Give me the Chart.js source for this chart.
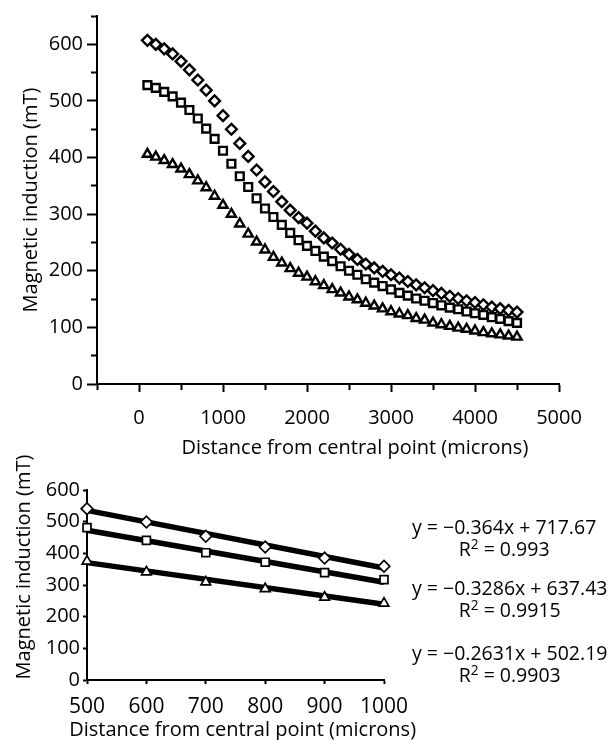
<!DOCTYPE html>
<html>
<head>
<meta charset="utf-8">
<script src="https://cdn.jsdelivr.net/npm/chart.js@4"></script>
<style>
  body { margin: 0; background: #fff; }
  #wrap { position: relative; width: 613px; height: 740px; font-family: "Open Sans", sans-serif; }
  canvas { position: absolute; left: 0; }
  .eq { position: absolute; left: 412px; text-align: center; font-size: 19.5px; line-height: 22px; color: #000; white-space: nowrap; }
  .eq sup { font-size: 0.7em; vertical-align: 0.5em; line-height: 0; }
</style>
</head>
<body>
<div id="wrap">
  <canvas id="topChart" width="613" height="470" style="top:0"></canvas>
  <canvas id="bottomChart" width="420" height="300" style="top:440px"></canvas>
</div>
<script>
// top panel: field along the distance (microns)
const distances = [100, 200, 300, 400, 500, 600, 700, 800, 900, 1000,
  1100, 1200, 1300, 1400, 1500, 1600, 1700, 1800, 1900, 2000,
  2100, 2200, 2300, 2400, 2500, 2600, 2700, 2800, 2900, 3000,
  3100, 3200, 3300, 3400, 3500, 3600, 3700, 3800, 3900, 4000,
  4100, 4200, 4300, 4400, 4500];
const diamondVals = [607, 600, 592, 583, 570, 555, 537, 519, 500, 474,
  450, 425, 402, 378, 357, 340, 322, 307, 294, 284,
  270, 258, 249, 238, 229, 220, 212, 205, 199, 193,
  187, 181, 175, 170, 165, 160, 155, 151, 147, 144,
  140, 136, 133, 130, 127];
const squareVals = [528, 523, 516, 508, 497, 484, 469, 451, 433, 412,
  389, 367, 348, 328, 310, 295, 281, 267, 254, 244,
  235, 225, 217, 208, 200, 193, 185, 179, 173, 167,
  161, 156, 151, 147, 143, 139, 135, 132, 128, 125,
  122, 118, 115, 111, 108];
const triangleVals = [406, 401, 395, 388, 380, 370, 359, 347, 332, 316,
  300, 283, 265, 251, 237, 224, 214, 204, 196, 189,
  181, 174, 167, 161, 154, 149, 143, 138, 133, 128,
  124, 121, 116, 113, 108, 105, 102, 99, 97, 94,
  91, 89, 87, 85, 83];

// bottom panel: 500-1000 microns with linear fits
const fitDistances = [500, 600, 700, 800, 900, 1000];
const fitDiamond = [541, 499, 454, 420, 385, 359];
const fitSquare = [481, 441, 402, 372, 339, 317];
const fitTriangle = [375, 341, 309, 288, 261, 242];
const slopes = [-0.364, -0.3286, -0.2631];
const intercepts = [717.67, 637.43, 502.19];
const rSquared = ['0.993', '0.9915', '0.9903'];

const xTitle = 'Distance from central point (microns)';
const yTitle = 'Magnetic induction (mT)';
const FONT = '"Open Sans", sans-serif';

function pts(xs, ys) {
  return xs.map((x, i) => ({ x: x, y: ys[i] }));
}

// axis titles drawn by hand so they can sit where the original puts them
const axisTitles = {
  id: 'axisTitles',
  afterDraw(chart, args, o) {
    const ctx = chart.ctx;
    const a = chart.chartArea;
    ctx.save();
    ctx.fillStyle = '#000';
    ctx.font = '20px ' + FONT;
    ctx.textAlign = 'center';
    ctx.textBaseline = 'middle';
    ctx.fillText(xTitle, chart.scales.x.getPixelForValue(o.xCenter), o.xY);
    ctx.translate(o.yX, (a.top + a.bottom) / 2 + o.yShift);
    ctx.rotate(-Math.PI / 2);
    ctx.fillText(yTitle, 0, 0);
    ctx.restore();
  }
};

function markerSet(data, style, r, bw) {
  return {
    data: data,
    showLine: false,
    pointStyle: style,
    pointRadius: r,
    pointBorderWidth: bw,
    pointBorderColor: '#000',
    pointBackgroundColor: '#fff',
    order: 1
  };
}

new Chart(document.getElementById('topChart'), {
  type: 'scatter',
  data: {
    datasets: [
      markerSet(pts(distances, diamondVals), 'rectRot', 5.4, 2.4),
      markerSet(pts(distances, squareVals), 'rect', 5.5, 2.4),
      markerSet(pts(distances, triangleVals), 'triangle', 5.3, 2.4)
    ]
  },
  options: {
    responsive: false,
    animation: false,
    layout: { padding: { left: 0, top: 14, right: 54, bottom: 0 } },
    plugins: {
      legend: { display: false },
      tooltip: { enabled: false },
      axisTitles: { xCenter: 2570, xY: 448, yX: 31, yShift: 0 }
    },
    scales: {
      x: {
        type: 'linear', min: -500, max: 5000,
        afterFit: s => { s.height = 86; },
        border: { color: '#000', width: 2 },
        grid: {
          drawOnChartArea: false, tickLength: 8, tickColor: '#000', tickWidth: 2,
          tickBorderDash: c => (c.tick && c.tick.value % 1000 === 0) ? [] : [5, 100]
        },
        ticks: {
          stepSize: 500, autoSkip: false, maxRotation: 0, padding: 14,
          color: '#000', font: { family: FONT, size: 20 },
          callback: v => (v % 1000 === 0 && v >= 0) ? String(v) : ''
        }
      },
      y: {
        min: 0, max: 650,
        afterFit: s => { s.width = 97; },
        border: { color: '#000', width: 2 },
        grid: {
          drawOnChartArea: false, tickLength: 10, tickColor: '#000', tickWidth: 2,
          tickBorderDash: c => (c.tick && c.tick.value % 100 === 0) ? [] : [0, 4, 6, 100]
        },
        ticks: {
          stepSize: 50, autoSkip: false, padding: 4,
          color: '#000', font: { family: FONT, size: 20 },
          callback: v => (v % 100 === 0 && v <= 600) ? String(v) : ''
        }
      }
    }
  },
  plugins: [axisTitles]
});

// trend lines from the fit coefficients
function fitLine(k) {
  const x0 = fitDistances[0], x1 = fitDistances[fitDistances.length - 1];
  return {
    type: 'line',
    data: [{ x: x0, y: slopes[k] * x0 + intercepts[k] }, { x: x1, y: slopes[k] * x1 + intercepts[k] }],
    borderColor: '#000',
    borderWidth: 5.5,
    pointRadius: 0,
    order: 2
  };
}

new Chart(document.getElementById('bottomChart'), {
  type: 'scatter',
  data: {
    datasets: [
      fitLine(0), fitLine(1), fitLine(2),
      markerSet(pts(fitDistances, fitDiamond), 'rectRot', 5.8, 1.7),
      markerSet(pts(fitDistances, fitSquare), 'rect', 5.6, 1.7),
      markerSet(pts(fitDistances, fitTriangle), 'triangle', 5.6, 1.7)
    ]
  },
  options: {
    responsive: false,
    animation: false,
    clip: false,
    layout: { padding: { left: 0, top: 50, right: 36, bottom: 0 } },
    plugins: {
      legend: { display: false },
      tooltip: { enabled: false },
      axisTitles: { xCenter: 762, xY: 290, yX: 24, yShift: -18 }
    },
    scales: {
      x: {
        type: 'linear', min: 500, max: 1000,
        afterFit: s => { s.height = 60; },
        border: { color: '#000', width: 2 },
        grid: { drawOnChartArea: false, tickLength: 4, tickColor: '#000', tickWidth: 2 },
        ticks: {
          stepSize: 100, autoSkip: false, maxRotation: 0, padding: 10,
          color: '#000', font: { family: FONT, size: 21 },
          callback: v => String(v)
        }
      },
      y: {
        min: 0, max: 600,
        afterFit: s => { s.width = 87; },
        border: { color: '#000', width: 2 },
        grid: { drawOnChartArea: false, tickLength: 4, tickColor: '#000', tickWidth: 2 },
        ticks: {
          stepSize: 100, autoSkip: false, padding: 3,
          color: '#000', font: { family: FONT, size: 20 },
          callback: v => String(v)
        }
      }
    }
  },
  plugins: [axisTitles]
});

// fit equations to the right of the bottom panel
const eqTops = [516, 577, 642];
const wrap = document.getElementById('wrap');
slopes.forEach((m, k) => {
  const d = document.createElement('div');
  d.className = 'eq';
  d.style.top = eqTops[k] + 'px';
  d.innerHTML = 'y = \u2212' + Math.abs(m) + 'x + ' + intercepts[k].toFixed(2) +
    '<br>R<sup>2</sup> = ' + rSquared[k];
  wrap.appendChild(d);
});
</script>
</body>
</html>
